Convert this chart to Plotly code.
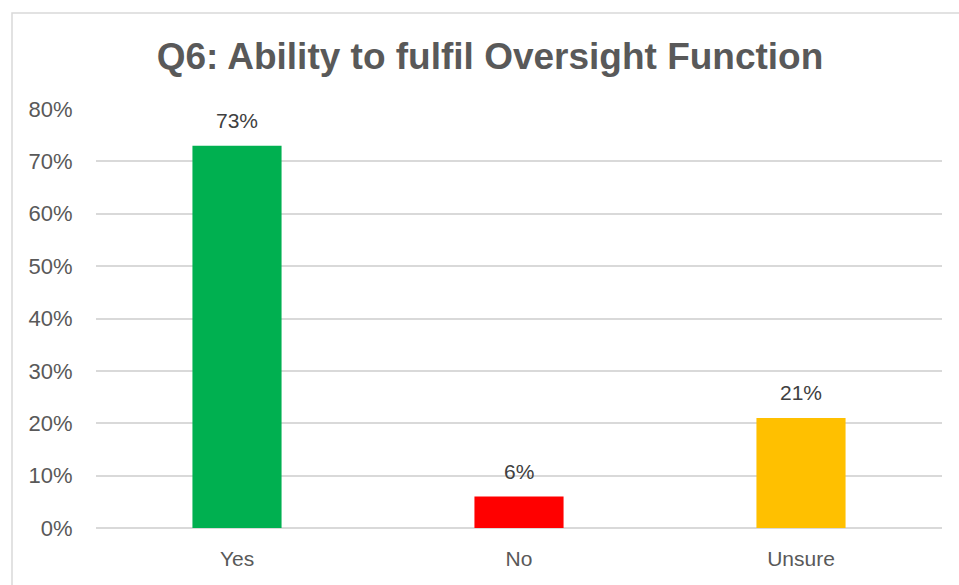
import plotly.graph_objects as go

categories = ["Yes", "No", "Unsure"]
values = [0.73, 0.06, 0.21]
labels = ["73%", "6%", "21%"]
colors = ["#00B050", "#FF0000", "#FFC000"]
tick_vals = [0, 0.1, 0.2, 0.3, 0.4, 0.5, 0.6, 0.7, 0.8]
tick_text = ["0%", "10%", "20%", "30%", "40%", "50%", "60%", "70%", "80%"]

W, H = 959, 585
ml, mr, mt, mb = 96, 17, 109, 57

fig = go.Figure()
fig.add_trace(go.Bar(
    x=categories, y=values, marker=dict(color=colors, line=dict(width=0)),
    width=0.316, hoverinfo="skip",
))
for c, v, t in zip(categories, values, labels):
    fig.add_annotation(x=c, y=v, text=t, showarrow=False, yanchor="bottom",
                       yshift=12, font=dict(size=21, color="#404040",
                                            family="Liberation Sans, Arial, sans-serif"))

pw = W - ml - mr
ph = H - mt - mb
# chart border in paper coords
bx0 = (12 - ml) / pw
by1 = 1 + (mt - 13) / ph
fig.add_shape(type="rect", xref="paper", yref="paper",
              x0=bx0, x1=1 + (mr + 20) / pw, y0=-(mb + 20) / ph, y1=by1,
              line=dict(color="#D9D9D9", width=1.5), fillcolor="rgba(0,0,0,0)", layer="below")

fig.update_layout(
    width=W, height=H,
    margin=dict(l=ml, r=mr, t=mt, b=mb, pad=0),
    paper_bgcolor="white", plot_bgcolor="white",
    title=dict(text="<b>Q6: Ability to fulfil Oversight Function</b>",
               x=490 / W, xanchor="center", xref="container",
               y=1 - 56 / H, yanchor="middle", yref="container",
               font=dict(size=37, color="#595959",
                         family="Liberation Sans, Arial, sans-serif")),
    showlegend=False,
    font=dict(family="Liberation Sans, Arial, sans-serif", color="#595959"),
    xaxis=dict(showgrid=False, showline=False, zeroline=False,
               tickfont=dict(size=21, color="#595959"), ticks="outside",
               ticklen=12, tickcolor="rgba(0,0,0,0)"),
    yaxis=dict(range=[0, 0.8], tickvals=tick_vals, ticktext=tick_text,
               showgrid=True, gridcolor="#D9D9D9", gridwidth=1.5,
               zeroline=True, zerolinecolor="#D9D9D9", zerolinewidth=1.5,
               showline=False, ticks="outside", ticklen=18,
               tickcolor="rgba(0,0,0,0)",
               tickfont=dict(size=22, color="#595959")),
)
fig.write_html("out.html")
